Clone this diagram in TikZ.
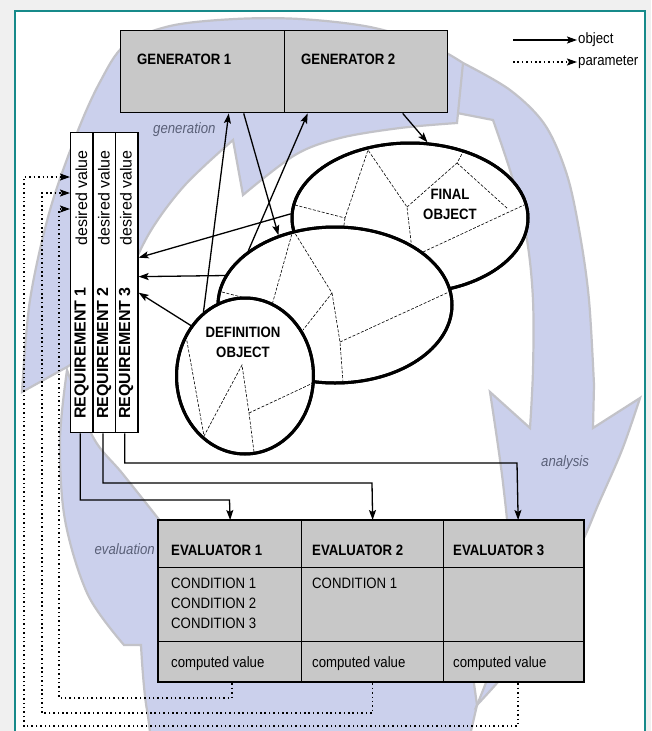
\documentclass[tikz,border=0pt]{standalone}
\usepackage{fontspec}
\setmainfont{Liberation Sans}
\newfontfamily\cond[FakeStretch=0.88]{Liberation Sans}
\usetikzlibrary{arrows.meta,calc,shapes.geometric}
\definecolor{boxgray}{HTML}{C8C8C8}
\definecolor{lav}{HTML}{CBD0EC}
\definecolor{lavedge}{HTML}{C2C2C8}
\definecolor{tealb}{HTML}{178A8A}
\definecolor{labc}{HTML}{5A6078}
\begin{document}
\begin{tikzpicture}[x=1pt,y=-1pt,
 conn/.style={line width=1.3pt,-{Stealth[length=10pt,width=7pt,inset=2pt]}},
 param/.style={line width=1.6pt,dash pattern=on 1.5pt off 2.9pt,-{Stealth[length=10pt,width=7pt,inset=2pt]}},
 gbox/.style={draw,line width=1.4pt,fill=boxgray,minimum height=82pt,inner sep=0pt},
 rbox/.style={draw,line width=1.3pt,fill=white,minimum width=22.3pt,minimum height=300pt,inner sep=0pt},
 ebox/.style={draw,line width=1.3pt,fill=boxgray,inner sep=0pt},
 ell/.style={ellipse,draw,line width=3pt,fill=white,inner sep=0pt},
 mesh/.style={line width=0.6pt,dash pattern=on 3pt off 1.6pt},
 bt/.style={font=\cond\bfseries\fontsize{15}{20}\selectfont,inner sep=0pt},
 nt/.style={font=\cond\fontsize{15}{20}\selectfont,inner sep=0pt,align=left},
 rt/.style={font=\fontsize{16}{18}\selectfont,inner sep=0pt,rotate=90},
 rbt/.style={font=\bfseries\fontsize{16}{18}\selectfont,inner sep=0pt,rotate=90},
 cl/.style={font=\cond\itshape\fontsize{15}{17}\selectfont,text=labc,inner sep=0pt},
 cyc/.style={fill=lav,draw=lavedge,line width=2.2pt,line join=miter}]
\useasboundingbox (0,0) rectangle (651,731);
\clip (0,0) rectangle (651,731);
\fill[gray!12] (0,0) rectangle (651,731);
\fill[white] (15,11) rectangle (645,740);
% background cycle
\begin{scope}
\clip (16,12) rectangle (644,740);
% evaluation
\filldraw[cyc] (67,370) -- plot[smooth,tension=0.55] coordinates {(67,370) (60,440) (65,520) (88,595) (124,645)}
  -- (141,645) -- plot[smooth,tension=0.55] coordinates {(141,645) (147,710) (165,770) (250,805) (350,805) (430,785) (462,770)}
  -- (477,705) -- (470,655)
  -- plot[smooth,tension=0.55] coordinates {(470,655) (400,672) (320,676) (250,665) (215,640)}
  -- (222,605) -- plot[smooth,tension=0.55] coordinates {(222,605) (190,560) (157,517) (122,473) (93,437) (67,370)} -- cycle;
% analysis
\filldraw[cyc] (452,66) -- (463,63) -- plot[smooth,tension=0.55] coordinates {(463,63) (510,90) (545,125) (567,175) (580,235) (589,300) (594,385)}
  -- (593,428) -- (640,398)
  -- plot[smooth,tension=0.55] coordinates {(640,398) (622,450) (598,505) (583,540) (548,610) (512,665) (477,705)}
  -- plot[smooth,tension=0.55] coordinates {(477,705) (500,640) (509,560) (503,483) (490,392)}
  -- (530,428) -- plot[smooth,tension=0.55] coordinates {(530,428) (533,370) (533,300) (527,240) (513,180) (493,120)}
  -- (452,112) -- cycle;
% generation
\filldraw[cyc] (67,367) -- (22,392) -- plot[smooth,tension=0.55] coordinates {(22,392) (30,300) (50,210) (77,133) (100,82) (125,45) (170,26) (235,19) (300,19) (370,27) (430,45) (463,63)}
  -- (457,123) -- plot[smooth,tension=0.55] coordinates {(457,123) (400,128) (340,138) (295,155) (243,195)}
  -- (233,140) -- plot[smooth,tension=0.55] coordinates {(233,140) (185,185) (150,232) (125,285) (105,342)} -- cycle;
\end{scope}
\draw[tealb,line width=1.6pt] (15,740) -- (15,11) -- (645,11) -- (645,740);
% labels of the cycle
\node[cl,anchor=west] (lgen) at (153,130) {generation};
\node[cl,anchor=west] (lana) at (541,463) {analysis};
\node[cl,anchor=east] (leva) at (155,549) {evaluation};
% legend
\coordinate (lo1) at (513,40); \coordinate (lo2) at (577,40);
\coordinate (lp1) at (513,62); \coordinate (lp2) at (577,62);
\draw[conn] (lo1) -- (lo2);
\draw[param] (lp1) -- (lp2);
\node[nt,anchor=west] (lobj) at (578,40) {object};
\node[nt,anchor=west] (lpar) at (578,62) {parameter};
% generators
\node[gbox,minimum width=164pt,anchor=north west] (g1) at (120,30) {};
\node[gbox,minimum width=163pt,anchor=north west] (g2) at (284,30) {};
\node[bt,anchor=west] (g1t) at (137,59) {GENERATOR 1};
\node[bt,anchor=west] (g2t) at (301,59) {GENERATOR 2};
% requirements
\node[rbox,anchor=north west] (r1) at (70,132) {};
\node[rbox,anchor=north west] (r2) at (92.7,132) {};
\node[rbox,anchor=north west] (r3) at (115,132) {};
\node[rt,anchor=east] (d1) at (81.5,150) {desired value};
\node[rt,anchor=east] (d2) at (104,150) {desired value};
\node[rt,anchor=east] (d3) at (126,150) {desired value};
\node[rbt,anchor=west] (q1) at (81.5,419) {REQUIREMENT 1};
\node[rbt,anchor=west] (q2) at (104,419) {REQUIREMENT 2};
\node[rbt,anchor=west] (q3) at (126,419) {REQUIREMENT 3};
% evaluators
\node[ebox,minimum width=143pt,minimum height=47pt,anchor=north west] (e1) at (158,520) {};
\node[ebox,minimum width=142pt,minimum height=47pt,anchor=north west] (e2) at (301,520) {};
\node[ebox,minimum width=141pt,minimum height=47pt,anchor=north west] (e3) at (443,520) {};
\node[ebox,minimum width=143pt,minimum height=74pt,anchor=north west] (c1) at (158,567) {};
\node[ebox,minimum width=142pt,minimum height=74pt,anchor=north west] (c2) at (301,567) {};
\node[ebox,minimum width=141pt,minimum height=74pt,anchor=north west] (c3) at (443,567) {};
\node[ebox,minimum width=143pt,minimum height=41pt,anchor=north west] (v1) at (158,641) {};
\node[ebox,minimum width=142pt,minimum height=41pt,anchor=north west] (v2) at (301,641) {};
\node[ebox,minimum width=141pt,minimum height=41pt,anchor=north west] (v3) at (443,641) {};
\draw[line width=1.8pt] (158,520) rectangle (584,682);
\node[bt,anchor=west] (e1t) at (171,550) {EVALUATOR 1};
\node[bt,anchor=west] (e2t) at (312,550) {EVALUATOR 2};
\node[bt,anchor=west] (e3t) at (453,550) {EVALUATOR 3};
\node[nt,anchor=north west] (c1t) at (171,578) {CONDITION 1\\CONDITION 2\\CONDITION 3};
\node[nt,anchor=north west] (c2t) at (312,578) {CONDITION 1};
\node[nt,anchor=west] (v1t) at (171,664) {computed value};
\node[nt,anchor=west] (v2t) at (312,664) {computed value};
\node[nt,anchor=west] (v3t) at (453,664) {computed value};
% final object
\node[ell,minimum width=236pt,minimum height=150pt] (fin) at (410,218) {};
\draw[mesh] (295,205) -- (345,218) -- (368,150) -- (407,207) -- (412,250);
\draw[mesh] (345,218) -- (343,232);
\draw[mesh] (407,207) -- (457,163) -- (463,152);
\draw[mesh] (457,163) -- (508,209);
\draw[mesh] (423,252) -- (524,205);
\draw[line width=3pt] (fin.center) ellipse[x radius=118,y radius=75];
\node[bt,align=center] (fint) at (450,204) {FINAL\\OBJECT};
% middle object
\node[ell,minimum width=234pt,minimum height=156pt] (mid) at (335,305) {};
\draw[mesh] (222,292) -- (272,305);
\draw[mesh] (293,230) -- (272,305);
\draw[mesh] (293,230) -- (332,293) -- (303,330);
\draw[mesh] (332,293) -- (340,342) -- (343,382);
\draw[mesh] (340,342) -- (449,292);
\draw[line width=3pt] (mid.center) ellipse[x radius=117,y radius=78];
% definition object
\node[ell,minimum width=137pt,minimum height=156pt] (def) at (245,376) {};
\draw[mesh] (186,336) -- (204,436) -- (242,365) -- (249,413) -- (254,452);
\draw[mesh] (249,413) -- (313,383);
\draw[line width=3pt] (def.center) ellipse[x radius=68.5,y radius=78];
\node[bt,align=center] (deft) at (243,342) {DEFINITION\\OBJECT};
% object connectors
\draw[conn] (def.123.7) -- ([xshift=26pt]g1.south);
\draw[conn] ([xshift=41pt]g1.south) -- (mid.129.6);
\draw[conn] (mid.148) -- ([xshift=-58.5pt]g2.south);
\draw[conn] ([xshift=36.5pt]g2.south) -- (fin.77.4);
\draw[conn] (fin.178.5) -- ([yshift=25pt]r3.east);
\draw[conn] (mid.165.5) -- ([yshift=6pt]r3.east);
\draw[conn] (def.137.2) -- ([yshift=-10pt]r3.east);
% requirement to evaluator
\draw[conn] ([xshift=-1.5pt]r1.south) |- (229.5,500) -- (e1.north);
\draw[conn] ([xshift=-1.5pt]r2.south) |- (372,483) -- (e2.north);
\draw[conn] ([xshift=-2pt]r3.south) |- (517,463) -- ([xshift=4pt]e3.north);
% parameters back
\coordinate (p1) at (70,177); \coordinate (p2) at (70,193); \coordinate (p3) at (70,209);
\draw[param] ([xshift=2pt]v1.south) |- (59,698) |- (p3);
\draw[param] (v2.south) |- (42,713) |- (p2);
\draw[param] ([xshift=4pt]v3.south) |- (24,726) |- (p1);
\end{tikzpicture}
\end{document}
